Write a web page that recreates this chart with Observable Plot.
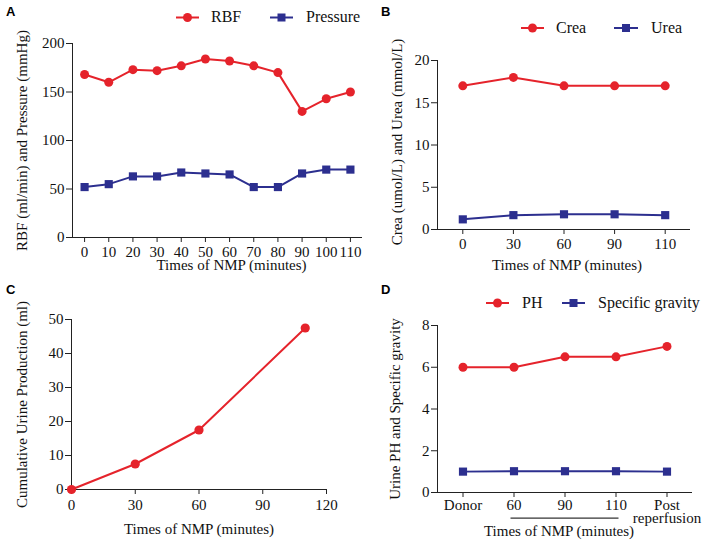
<!DOCTYPE html>
<html>
<head>
<meta charset="utf-8">
<script src="https://cdn.jsdelivr.net/npm/d3@7"></script>
<script src="https://cdn.jsdelivr.net/npm/@observablehq/plot@0.6"></script>
<style>
  html, body { margin: 0; padding: 0; background: #fff; }
  #root { position: relative; width: 709px; height: 543px; background: #fff; overflow: hidden; }
  .panel { position: absolute; }
  .panel svg { max-width: none; overflow: visible; }
  #overlay { position: absolute; left: 0; top: 0; pointer-events: none; }
</style>
</head>
<body>
<div id="root">
  <div class="panel" id="pA" style="left:0px;top:0px;"></div>
  <div class="panel" id="pB" style="left:355px;top:0px;"></div>
  <div class="panel" id="pC" style="left:0px;top:270px;"></div>
  <div class="panel" id="pD" style="left:355px;top:270px;"></div>
</div>
<script>
// ---------- Data ----------
// Panel A
const timesA = [0, 10, 20, 30, 40, 50, 60, 70, 80, 90, 100, 110];
const rbf = [168, 160, 173, 172, 177, 184, 182, 177, 170, 130, 143, 150];
const pressure = [52, 55, 63, 63, 67, 66, 65, 52, 52, 66, 70, 70];
const xTicksA = [0, 10, 20, 30, 40, 50, 60, 70, 80, 90, 100, 110];
const yTicksA = [0, 50, 100, 150, 200];

// Panel B
const timesB = ["0", "30", "60", "90", "110"];
const crea = [17, 18, 17, 17, 17];
const urea = [1.2, 1.7, 1.8, 1.8, 1.7];
const yTicksB = [0, 5, 10, 15, 20];

// Panel C
const timesC = [0, 30, 60, 110];
const urine = [0, 7.5, 17.5, 47.5];
const xTicksC = [0, 30, 60, 90, 120];
const yTicksC = [0, 10, 20, 30, 40, 50];

// Panel D
const groupsD = ["Donor", "60", "90", "110", "Post\nreperfusion"];
const ph = [6, 6, 6.5, 6.5, 7];
const gravity = [1.0, 1.02, 1.02, 1.02, 1.0];
const yTicksD = [0, 2, 4, 6, 8];

// ---------- Styles ----------
const red = "#e5232b";
const blue = "#2c2f8f";
const axisColor = "#222";
const serif = "'Liberation Serif','Times New Roman',serif";
const baseStyle = {fontFamily: serif, fontSize: "15px", background: "transparent", overflow: "visible", color: "#111"};

function seriesMarks(data, key, color, symbol, r) {
  return [
    Plot.line(data, {x: "x", y: key, stroke: color, strokeWidth: 2}),
    Plot.dot(data, {x: "x", y: key, fill: color, stroke: "none", symbol, r})
  ];
}
function xTitle(label, dx, dy) {
  return Plot.text([label], {text: d => d, frameAnchor: "bottom", textAnchor: "middle", lineAnchor: "bottom", dx, dy, fontSize: 15});
}
function yTitle(label, dx, dy) {
  return Plot.text([label], {text: d => d, frameAnchor: "left", textAnchor: "middle", lineAnchor: "middle", rotate: -90, dx, dy, fontSize: 15});
}

// ---------- Panel A ----------
const dataA = timesA.map((t, i) => ({x: t, rbf: rbf[i], pressure: pressure[i]}));
const plotA = Plot.plot({
  width: 364, height: 280,
  marginLeft: 72, marginRight: 2, marginTop: 43, marginBottom: 43,
  style: baseStyle,
  x: {domain: [-5, 115]},
  y: {domain: [0, 200]},
  marks: [
    Plot.axisX({ticks: xTicksA, tickSize: 5, tickPadding: 4, label: null, stroke: axisColor}),
    Plot.axisY({ticks: yTicksA, tickSize: 6, tickPadding: 2, label: null, stroke: axisColor}),
    Plot.ruleY([0], {stroke: axisColor}),
    Plot.ruleX([-5], {stroke: axisColor}),
    ...seriesMarks(dataA, "pressure", blue, "square", 4.6),
    ...seriesMarks(dataA, "rbf", red, "circle", 4.5),
    xTitle("Times of NMP (minutes)", 14, 32),
    yTitle("RBF (ml/min) and Pressure (mmHg)", -50, 0)
  ]
});
document.getElementById("pA").appendChild(plotA);

// ---------- Panel B ----------
const dataB = timesB.map((t, i) => ({x: i, crea: crea[i], urea: urea[i]}));
const plotB = Plot.plot({
  width: 354, height: 280,
  marginLeft: 82, marginRight: 19, marginTop: 60, marginBottom: 51,
  style: baseStyle,
  x: {domain: [-0.5, timesB.length - 0.5]},
  y: {domain: [0, 20]},
  marks: [
    Plot.axisX({ticks: timesB.map((_, i) => i), tickFormat: i => timesB[i], tickSize: 5, tickPadding: 4, label: null, stroke: axisColor}),
    Plot.axisY({ticks: yTicksB, tickSize: 6, tickPadding: 2, label: null, stroke: axisColor}),
    Plot.ruleY([0], {stroke: axisColor}),
    Plot.ruleX([-0.5], {stroke: axisColor}),
    ...seriesMarks(dataB, "urea", blue, "square", 4.6),
    ...seriesMarks(dataB, "crea", red, "circle", 4.5),
    xTitle("Times of NMP (minutes)", 3, 40),
    yTitle("Crea (umol/L) and Urea (mmol/L)", -40, -3)
  ]
});
document.getElementById("pB").appendChild(plotB);

// ---------- Panel C ----------
const dataC = timesC.map((t, i) => ({x: t, urine: urine[i]}));
const plotC = Plot.plot({
  width: 355, height: 273,
  marginLeft: 71, marginRight: 29, marginTop: 49, marginBottom: 54,
  style: baseStyle,
  x: {domain: [0, 120]},
  y: {domain: [0, 50]},
  marks: [
    Plot.axisX({ticks: xTicksC, tickSize: 5, tickPadding: 5, label: null, stroke: axisColor}),
    Plot.axisY({ticks: yTicksC, tickSize: 6, tickPadding: 2, label: null, stroke: axisColor}),
    Plot.ruleY([0], {stroke: axisColor}),
    Plot.ruleX([0], {stroke: axisColor}),
    ...seriesMarks(dataC, "urine", red, "circle", 4.6),
    xTitle("Times of NMP (minutes)", 0, 44),
    yTitle("Cumulative Urine Production (ml)", -49, 0)
  ]
});
document.getElementById("pC").appendChild(plotC);

// ---------- Panel D ----------
const dataD = groupsD.map((g, i) => ({x: i, ph: ph[i], gravity: gravity[i]}));
const plotD = Plot.plot({
  width: 354, height: 273,
  marginLeft: 82, marginRight: 17, marginTop: 55, marginBottom: 51,
  style: baseStyle,
  x: {domain: [-0.5, groupsD.length - 0.5]},
  y: {domain: [0, 8]},
  marks: [
    Plot.axisX({ticks: groupsD.map((_, i) => i), tickFormat: i => groupsD[i], tickSize: 5, tickPadding: 4, lineHeight: 0.82, label: null, stroke: axisColor}),
    Plot.axisY({ticks: yTicksD, tickSize: 6, tickPadding: 2, label: null, stroke: axisColor}),
    Plot.ruleY([0], {stroke: axisColor}),
    Plot.ruleX([-0.5], {stroke: axisColor}),
    Plot.ruleY([0], {x1: 1, x2: 3, dy: 25.6, insetLeft: -3, insetRight: -3, stroke: "#000", strokeWidth: 1}),
    ...seriesMarks(dataD, "gravity", blue, "square", 4.6),
    ...seriesMarks(dataD, "ph", red, "circle", 4.5),
    xTitle("Times of NMP (minutes)", -6, 43),
    yTitle("Urine PH and Specific gravity", -42, 0)
  ]
});
document.getElementById("pD").appendChild(plotD);

// ---------- Legends & panel letters ----------
const overlay = d3.select("#root").append("svg")
  .attr("id", "overlay").attr("width", 709).attr("height", 543);

const letters = [
  {t: "A", x: 6, y: 16}, {t: "B", x: 381, y: 16},
  {t: "C", x: 6, y: 294}, {t: "D", x: 381, y: 294}
];
overlay.selectAll("text.letter").data(letters).join("text")
  .attr("class", "letter")
  .attr("x", d => d.x).attr("y", d => d.y)
  .attr("font-family", "'Liberation Sans',Arial,sans-serif")
  .attr("font-weight", "bold").attr("font-size", 13)
  .text(d => d.t);

const legends = [
  {y: 17.5, items: [
    {label: "RBF", color: red, sym: "circle", x0: 176, x1: 199, tx: 211},
    {label: "Pressure", color: blue, sym: "square", x0: 270, x1: 293, tx: 306}
  ]},
  {y: 28, items: [
    {label: "Crea", color: red, sym: "circle", x0: 521, x1: 544, tx: 556},
    {label: "Urea", color: blue, sym: "square", x0: 614, x1: 638, tx: 651}
  ]},
  {y: 303, items: [
    {label: "PH", color: red, sym: "circle", x0: 486, x1: 509, tx: 522},
    {label: "Specific gravity", color: blue, sym: "square", x0: 562, x1: 585, tx: 598}
  ]}
];
for (const lg of legends) {
  for (const it of lg.items) {
    const g = overlay.append("g");
    g.append("line").attr("x1", it.x0).attr("x2", it.x1).attr("y1", lg.y).attr("y2", lg.y)
      .attr("stroke", it.color).attr("stroke-width", 2);
    const cx = (it.x0 + it.x1) / 2;
    if (it.sym === "circle") {
      g.append("circle").attr("cx", cx).attr("cy", lg.y).attr("r", 4.5).attr("fill", it.color);
    } else {
      g.append("rect").attr("x", cx - 4).attr("y", lg.y - 4).attr("width", 8).attr("height", 8).attr("fill", it.color);
    }
    g.append("text").attr("x", it.tx).attr("y", lg.y + 4.5)
      .attr("font-family", serif).attr("font-size", 16).attr("fill", "#111")
      .text(it.label);
  }
}
</script>
</body>
</html>
